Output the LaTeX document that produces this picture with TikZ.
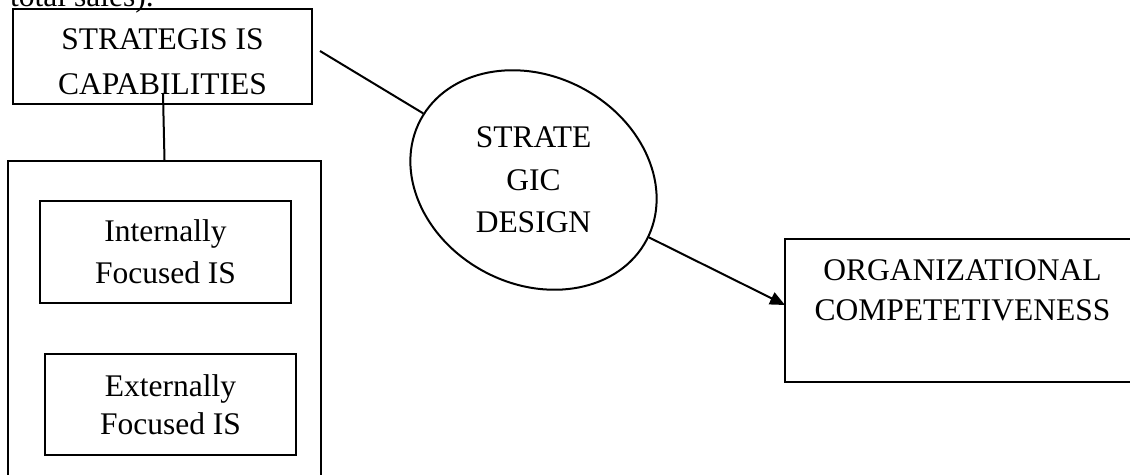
\documentclass[tikz,border=0pt]{standalone}
\usepackage{fontspec}
\setmainfont{Liberation Serif}
\usetikzlibrary{shapes.geometric,arrows.meta}
\begin{document}
\begin{tikzpicture}[x=1pt,y=-1pt,
  box/.style={draw, line width=2pt, rectangle, inner sep=0pt},
  lbl/.style={font={\fontsize{31.5pt}{#1}\selectfont}, align=center, inner sep=0pt},
  lbl/.default=44pt,
  link/.style={line width=2pt},
]
\useasboundingbox (0,0) rectangle (1130,474);
\clip (0,0) rectangle (1130,474);

% running text above the figure
\node[lbl, anchor=base west] (head) at (10,6) {total sales).};

% capabilities box and its grouping frame
\node[box, minimum width=299pt, minimum height=95pt] (capbox) at (162.5,56.5) {};
\node[lbl=45pt] (captxt) at (162.5,61.5) {STRATEGIS IS\\CAPABILITIES};

\node[box, minimum width=313pt, minimum height=334pt] (group) at (164.5,328) {};
\node[box, lbl=42pt, minimum width=251pt, minimum height=102pt] (intis) at (165.5,252) {Internally\\Focused IS};
\node[box, lbl=38pt, minimum width=251pt, minimum height=101pt] (extis) at (170.5,404.5) {Externally\\Focused IS};

% strategic design ellipse
\node[draw, line width=2pt, ellipse, inner sep=0pt, minimum width=256pt, minimum height=208pt, rotate=-28] (design) at (533.5,180) {};
\node[lbl=42.5pt] (designtxt) at (533.5,180) {STRATE\\GIC\\DESIGN};

% outcome box
\node[box, minimum width=355pt, minimum height=143pt] (orgbox) at (962.5,310.5) {};
\node[lbl=40pt] (orgtxt) at (962.5,290) {ORGANIZATIONAL\\COMPETETIVENESS};

% connectors
\coordinate (capout) at (320,51);
\coordinate (capdown) at (163,94);
\coordinate (orgin) at (785,305);
\draw[link] (capout) -- (design);
\draw[link] (capdown) -- (group.north);
\draw[link, -{Triangle[length=15pt,width=13pt]}] (design) -- (orgin);
\end{tikzpicture}
\end{document}
